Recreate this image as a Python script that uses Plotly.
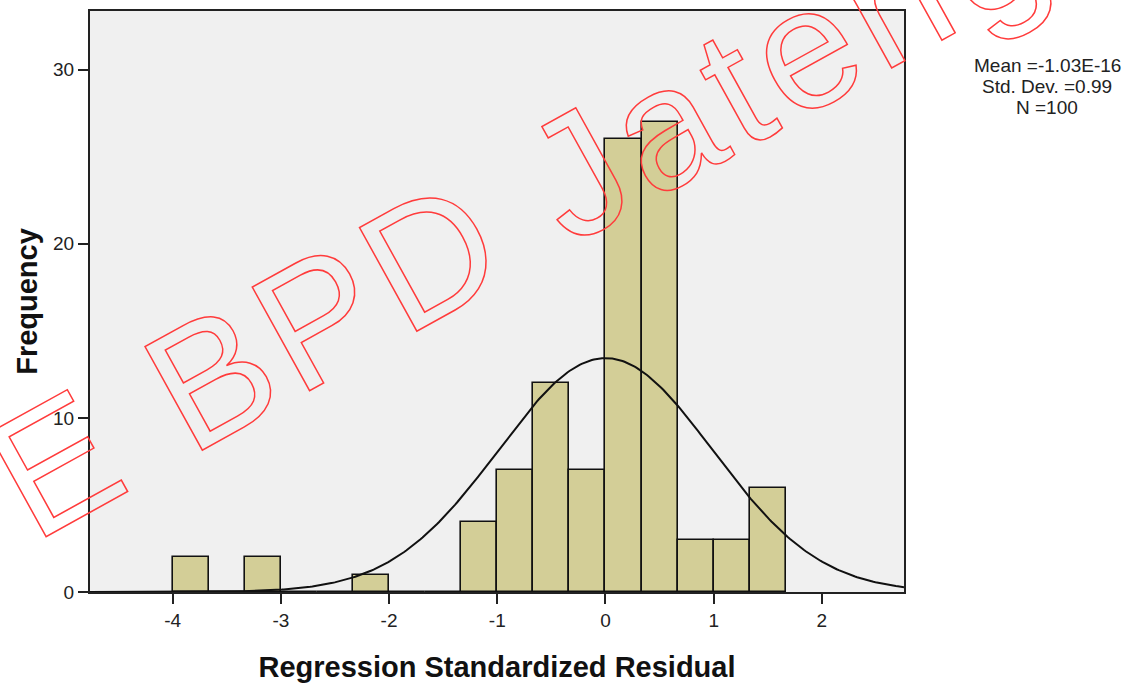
import numpy as np
import plotly.graph_objects as go

# ---- data ----
bin_start = -4.0
bin_width = 1.0 / 3.0
counts = [2, 0, 2, 0, 0, 1, 0, 0, 4, 7, 12, 7, 26, 27, 3, 3, 6]
x_ticks = [-4, -3, -2, -1, 0, 1, 2]
y_ticks = [0, 10, 20, 30]
mean_val = -1.03e-16
std_val = 0.99
n_val = 100
stats_lines = ["Mean =-1.03E-16", "Std. Dev. =0.99", "N =100"]
x_title = "Regression Standardized Residual"
y_title = "Frequency"
watermark = "E BPD Jateng"

x_range = [-4.764, 2.759]
y_range = [0, 33.37]

centers = [bin_start + (i + 0.5) * bin_width for i in range(len(counts))]

xc = np.linspace(x_range[0], x_range[1], 400)
yc = n_val * bin_width / (std_val * np.sqrt(2 * np.pi)) * np.exp(-0.5 * ((xc - mean_val) / std_val) ** 2)

FONT = "Liberation Sans, Arial, sans-serif"

fig = go.Figure()
fig.add_trace(go.Bar(
    x=centers, y=counts, width=bin_width,
    marker=dict(color="rgb(211,206,151)", line=dict(color="#111111", width=1.6)),
    showlegend=False, hoverinfo="x+y",
))
fig.add_trace(go.Scatter(
    x=xc, y=yc, mode="lines", line=dict(color="#111111", width=2),
    showlegend=False, hoverinfo="skip",
))

fig.update_layout(
    width=1136, height=687,
    margin=dict(l=90, r=232, t=9, b=94),
    paper_bgcolor="white", plot_bgcolor="#F0F0F0",
    font=dict(family=FONT, color="#111111"),
    bargap=0,
)
fig.update_xaxes(
    range=x_range, tickvals=x_ticks, ticktext=[str(v) for v in x_ticks],
    ticks="outside", ticklen=10, tickwidth=2, tickcolor="#222222",
    showline=True, linewidth=2, linecolor="#222222", mirror=True,
    showgrid=False, zeroline=False,
    tickfont=dict(size=19, color="#222222"),
    title=dict(text=x_title, font=dict(size=29, color="#111111", family="Liberation Sans, Arial", weight="bold"), standoff=27),
)
fig.update_yaxes(
    range=y_range, tickvals=y_ticks, ticktext=[str(v) for v in y_ticks],
    ticks="outside", ticklen=10, tickwidth=2, tickcolor="#222222",
    showline=True, linewidth=2, linecolor="#222222", mirror=True,
    showgrid=False, zeroline=False,
    tickfont=dict(size=19, color="#222222"),
    title=dict(text=y_title, font=dict(size=29, color="#111111", family="Liberation Sans, Arial", weight="bold"), standoff=7),
)

# stats box (positions given in pixels, converted to paper coords)
def px_to_paper(px, py):
    return (px - 90) / 814.0, (593 - py) / 584.0

for i, line in enumerate(stats_lines):
    ax, ay = px_to_paper(1047, 64 + 21 * i)
    fig.add_annotation(
        x=ax, y=ay, xref="paper", yref="paper", text=line, showarrow=False,
        font=dict(size=19, color="#222222", family=FONT), xanchor="center", yanchor="middle",
    )

# watermark
wx, wy = px_to_paper(519, 205)
fig.add_annotation(
    x=wx, y=wy, xref="paper", yref="paper",
    text=watermark, showarrow=False, textangle=-29,
    font=dict(size=172, color="#ff3b3b", family=FONT),
    xanchor="center", yanchor="middle",
)

post = """
var gd = document.getElementById('{plot_id}');
function outline(){
  gd.querySelectorAll('text.annotation-text').forEach(function(t){
    if (t.textContent.indexOf('BPD') >= 0) {
      t.style.fill = 'none';
      t.style.stroke = '#ff3b3b';
      t.style.strokeWidth = '1.5px';
      t.style.letterSpacing = '8px';
    }
  });
}
outline();
gd.on('plotly_afterplot', outline);
"""
fig.write_html("out.html", post_script=post)
